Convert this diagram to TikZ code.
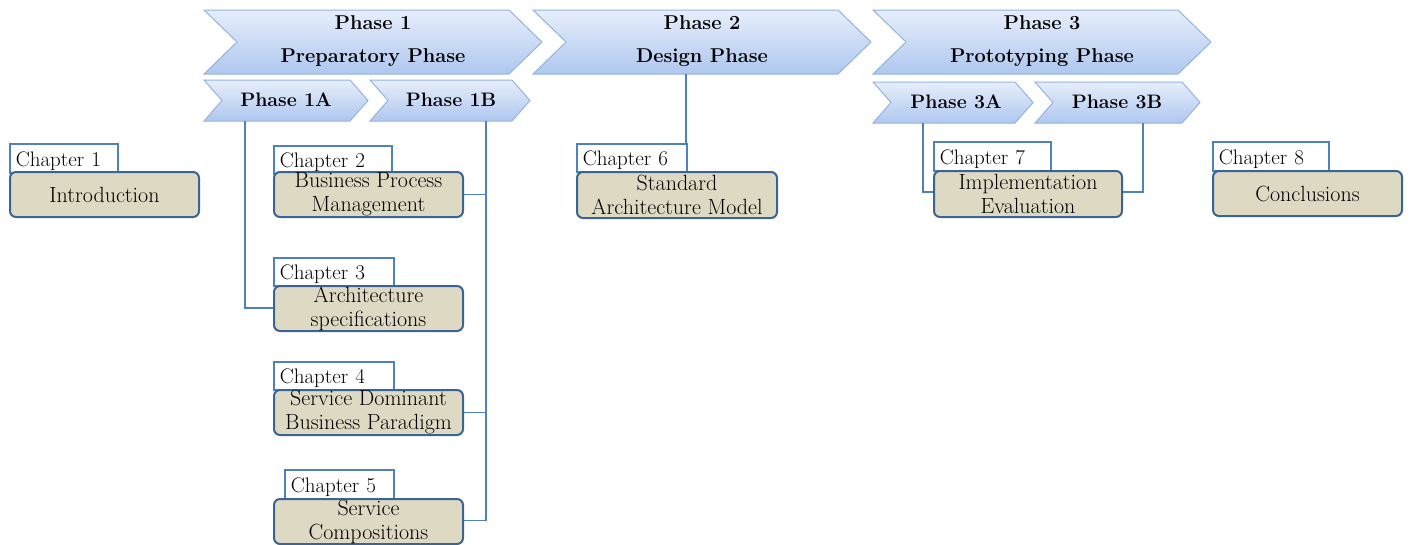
\documentclass[tikz,border=0pt]{standalone}
\usepackage{fontspec}
\setmainfont{Latin Modern Roman}
\usetikzlibrary{calc}
\definecolor{chevtop}{HTML}{E6EEFB}
\definecolor{chevbot}{HTML}{AFC7EF}
\definecolor{chevline}{HTML}{95B3DD}
\definecolor{boxfill}{HTML}{DDD9C3}
\definecolor{boxline}{HTML}{3A6494}
\definecolor{linkblue}{HTML}{4F81BD}
\tikzset{
  chevron/.style={draw=chevline, line width=1pt, top color=chevtop, bottom color=chevbot, line join=miter},
  phasetext/.style={font=\fontsize{20}{33}\selectfont\bfseries, align=center, inner sep=0},
  subtext/.style={font=\fontsize{19.5}{22}\selectfont\bfseries, inner sep=0},
  chlabel/.style={draw=linkblue, line width=1.6pt, fill=white, anchor=north west, inner xsep=6pt, inner ysep=0pt,
    text height=19pt, text depth=3pt, font=\fontsize{21}{22}\selectfont, align=left},
  chbox/.style={draw=boxline, line width=2pt, fill=boxfill, rounded corners=6pt, anchor=north west,
    inner sep=0pt, font=\fontsize{22}{24}\selectfont, align=center},
  conn/.style={draw=linkblue, line width=1.8pt},
}
\begin{document}
\begin{tikzpicture}[x=1pt,y=-1pt]
\useasboundingbox (0,0) rectangle (1411,544);

% main phase chevrons
\path[chevron] (204,10) -- (509,10) -- (542,42) -- (509,74) -- (204,74) -- (237,42) -- cycle;
\path[chevron] (533,10) -- (838,10) -- (871,42) -- (838,74) -- (533,74) -- (566,42) -- cycle;
\path[chevron] (873,10) -- (1178,10) -- (1211,42) -- (1178,74) -- (873,74) -- (906,42) -- cycle;
\node[phasetext] (p1) at (373,41) {Phase 1\\Preparatory Phase};
\node[phasetext] (p2) at (702,41) {Phase 2\\Design Phase};
\node[phasetext] (p3) at (1042,41) {Phase 3\\Prototyping Phase};

% sub-phase chevrons
\path[chevron] (204,80) -- (350,80) -- (368,100.5) -- (350,121) -- (204,121) -- (222,100.5) -- cycle;
\path[chevron] (370,80) -- (512,80) -- (530,100.5) -- (512,121) -- (370,121) -- (388,100.5) -- cycle;
\path[chevron] (873,82) -- (1015,82) -- (1033,102.5) -- (1015,123) -- (873,123) -- (891,102.5) -- cycle;
\path[chevron] (1035,82) -- (1182,82) -- (1200,102.5) -- (1182,123) -- (1035,123) -- (1053,102.5) -- cycle;
\node[subtext] (p1a) at (286,100) {Phase 1A};
\node[subtext] (p1b) at (451,100) {Phase 1B};
\node[subtext] (p3a) at (956,102) {Phase 3A};
\node[subtext] (p3b) at (1117,102) {Phase 3B};

% lower ends of the phase shapes
\coordinate (p1a-bot) at (245,121);
\coordinate (p1b-bot) at (486,121);
\coordinate (p2-bot) at (686,74);
\coordinate (p3a-bot) at (923,123);
\coordinate (p3b-bot) at (1143,123);

% chapter tabs
\node[chlabel, minimum width=108, minimum height=29, text width=96] (l1) at (9,143) {Chapter 1};
\node[chlabel, minimum width=118, minimum height=28, text width=106] (l2) at (273,145) {Chapter 2};
\node[chlabel, minimum width=120, minimum height=28, text width=108] (l3) at (273,257) {Chapter 3};
\node[chlabel, minimum width=120, minimum height=28, text width=108] (l4) at (273,361) {Chapter 4};
\node[chlabel, minimum width=109, minimum height=29, text width=97] (l5) at (284,469) {Chapter 5};
\node[chlabel, minimum width=110, minimum height=28, text width=98] (l6) at (576,143) {Chapter 6};
\node[chlabel, minimum width=117, minimum height=29, text width=105] (l7) at (933,141) {Chapter 7};
\node[chlabel, minimum width=116, minimum height=29, text width=104] (l8) at (1212,141) {Chapter 8};

% connectors
\draw[conn] (p1a-bot) |- (l3.south west |- 0,308);
\draw[conn] (p1b-bot) |- (462,520.5);
\draw[conn] (p2-bot) -- (p2-bot |- l6.north);
\draw[conn] (p3a-bot) |- (933,192);
\draw[conn] (p3b-bot) |- (1121,192);

% chapter boxes
\node[chbox, minimum width=189, minimum height=45] (c1) at (9,171) {Introduction};
\node[chbox, minimum width=189, minimum height=45] (c2) at (273,171) {Business Process\\Management};
\node[chbox, minimum width=189, minimum height=45] (c3) at (273,285) {Architecture\\specifications};
\node[chbox, minimum width=189, minimum height=45] (c4) at (273,389) {Service Dominant\\Business Paradigm};
\node[chbox, minimum width=189, minimum height=45] (c5) at (273,498) {Service\\Compositions};
\node[chbox, minimum width=200, minimum height=46] (c6) at (576,171) {Standard\\Architecture Model};
\node[chbox, minimum width=188, minimum height=46] (c7) at (933,170) {Implementation\\Evaluation};
\node[chbox, minimum width=189, minimum height=45] (c8) at (1212,170) {Conclusions};

% branches from Phase 1B
\draw[conn] (c2.east) -- (c2.east -| p1b-bot);
\draw[conn] (c4.east) -- (c4.east -| p1b-bot);
\end{tikzpicture}
\end{document}
